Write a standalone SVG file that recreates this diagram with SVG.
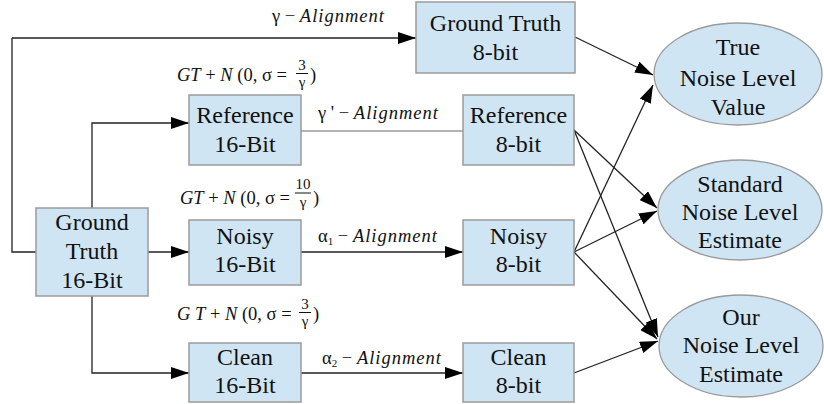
<svg xmlns="http://www.w3.org/2000/svg" width="824" height="404" viewBox="0 0 824 404">
<defs>
<marker id="arr" markerUnits="userSpaceOnUse" markerWidth="18" markerHeight="12" refX="18" refY="6" orient="auto">
<path d="M0,0 L18,6 L0,12 z" fill="#000"/>
</marker>
<style>
.box{fill:#d0e5f4;stroke:#9a9a9a;stroke-width:1.5}
.ell{fill:#d0e5f4;stroke:#9a9a9a;stroke-width:1.3}
.t{font-size:24px;fill:#111;text-anchor:middle}
.m{font-size:18.5px;fill:#111}
.mi{font-style:italic}
.al{font-style:italic;letter-spacing:1px}
.f{font-size:15px;fill:#111;text-anchor:middle}
.c{fill:none;stroke:#222;stroke-width:1.3}
.a{fill:none;stroke:#222;stroke-width:1.3;marker-end:url(#arr)}
.g{fill:none;stroke:#9a9a9a;stroke-width:1.3}
</style>
</defs>
<rect width="824" height="404" fill="#fff"/>
<g font-family="Liberation Serif, Times New Roman, serif">
<g id="connectors">
<path class="a" d="M148,252 H189"/>
<path class="c" d="M36,252 H12 V38"/>
<path class="a" d="M12,38 H416"/>
<path class="a" d="M92,208 V123 H189"/>
<path class="a" d="M92,296 V373 H189"/>
<path class="g" d="M301,131 H463"/>
<path class="a" d="M301,252 H463"/>
<path class="a" d="M301,373 H463"/>
<path class="a" d="M575,37 L653,75"/>
<path class="a" d="M574,130 L657,208"/>
<path class="a" d="M574,130 L658,337"/>
<path class="a" d="M574,252 L653,85"/>
<path class="a" d="M574,252 L657,211"/>
<path class="a" d="M574,252 L657,339"/>
<path class="a" d="M574,373 L658,341"/>
</g>
<g id="labels">
<text class="m" x="272" y="22">γ − <tspan class="al">Alignment</tspan></text>
<text class="m" x="177" y="81"><tspan class="mi">GT</tspan> + <tspan class="mi">N</tspan> (0, σ = </text>
<text class="f" x="302" y="70">3</text>
<line x1="296" y1="73.5" x2="308" y2="73.5" stroke="#111" stroke-width="1"/>
<text class="f" x="302" y="87">γ</text>
<text class="m" x="310" y="81">)</text>
<text class="m" x="318" y="119">γ ' − <tspan class="al">Alignment</tspan></text>
<text class="m" x="180" y="204"><tspan class="mi">GT</tspan> + <tspan class="mi">N</tspan> (0, σ = </text>
<text class="f" x="303" y="189">10</text>
<line x1="295" y1="193" x2="311" y2="193" stroke="#111" stroke-width="1"/>
<text class="f" x="303" y="207">γ</text>
<text class="m" x="313" y="204">)</text>
<text class="m" x="318" y="242">α<tspan font-size="11" dy="3">1</tspan><tspan dy="-3"> − </tspan><tspan class="al">Alignment</tspan></text>
<text class="m" x="177" y="320"><tspan class="mi">G T</tspan> + <tspan class="mi">N</tspan> (0, σ = </text>
<text class="f" x="305" y="309">3</text>
<line x1="299" y1="312.5" x2="311" y2="312.5" stroke="#111" stroke-width="1"/>
<text class="f" x="305" y="326">γ</text>
<text class="m" x="313" y="320">)</text>
<text class="m" x="322" y="364">α<tspan font-size="11" dy="3">2</tspan><tspan dy="-3"> − </tspan><tspan class="al">Alignment</tspan></text>
</g>
<g id="gt8">
<rect class="box" x="416" y="2" width="159" height="71"/>
<text class="t" x="495.5" y="31">Ground Truth</text>
<text class="t" x="495.5" y="60">8-bit</text>
</g>
<g id="ref16">
<rect class="box" x="189" y="95" width="112" height="70"/>
<text class="t" x="245" y="123">Reference</text>
<text class="t" x="245" y="152">16-Bit</text>
</g>
<g id="ref8">
<rect class="box" x="463" y="95" width="111" height="70"/>
<text class="t" x="518.5" y="123">Reference</text>
<text class="t" x="518.5" y="152">8-bit</text>
</g>
<g id="gt16">
<rect class="box" x="36" y="208" width="112" height="88"/>
<text class="t" x="92" y="230">Ground</text>
<text class="t" x="92" y="259">Truth</text>
<text class="t" x="92" y="288">16-Bit</text>
</g>
<g id="noisy16">
<rect class="box" x="189" y="220" width="112" height="65"/>
<text class="t" x="245" y="244">Noisy</text>
<text class="t" x="245" y="272">16-Bit</text>
</g>
<g id="noisy8">
<rect class="box" x="463" y="220" width="111" height="65"/>
<text class="t" x="518.5" y="244">Noisy</text>
<text class="t" x="518.5" y="272">8-bit</text>
</g>
<g id="clean16">
<rect class="box" x="189" y="343" width="112" height="59"/>
<text class="t" x="245" y="365">Clean</text>
<text class="t" x="245" y="393">16-Bit</text>
</g>
<g id="clean8">
<rect class="box" x="463" y="343" width="111" height="59"/>
<text class="t" x="518.5" y="365">Clean</text>
<text class="t" x="518.5" y="393">8-bit</text>
</g>
<g id="true">
<ellipse class="ell" cx="738" cy="74" rx="84" ry="51"/>
<text class="t" x="738" y="55">True</text>
<text class="t" x="738" y="86">Noise Level</text>
<text class="t" x="738" y="115">Value</text>
</g>
<g id="standard">
<ellipse class="ell" cx="740" cy="210" rx="82" ry="50"/>
<text class="t" x="740" y="192">Standard</text>
<text class="t" x="740" y="220">Noise Level</text>
<text class="t" x="740" y="248">Estimate</text>
</g>
<g id="our">
<ellipse class="ell" cx="741" cy="346" rx="82" ry="51"/>
<text class="t" x="741" y="325">Our</text>
<text class="t" x="741" y="353">Noise Level</text>
<text class="t" x="741" y="382">Estimate</text>
</g>
</g>
</svg>
